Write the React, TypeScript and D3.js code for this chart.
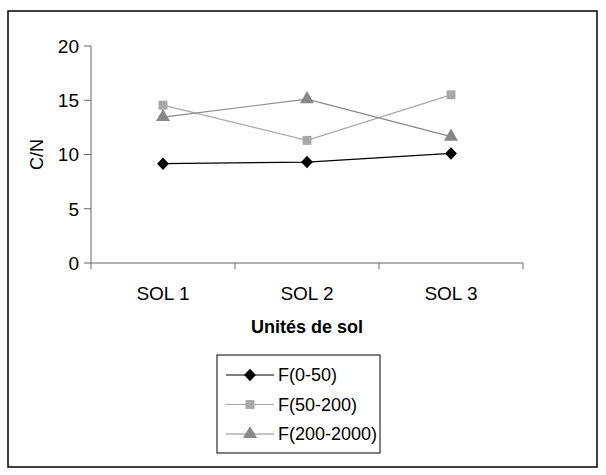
import React from 'react';
import * as d3 from 'd3';

const categories = ['SOL 1', 'SOL 2', 'SOL 3'];
const f0_50 = [9.15, 9.3, 10.1];
const f50_200 = [14.55, 11.3, 15.5];
const f200_2000 = [13.45, 15.1, 11.65];
const yTicks = [0, 5, 10, 15, 20];
const seriesNames = ['F(0-50)', 'F(50-200)', 'F(200-2000)'];

const W = 606;
const H = 475;
const margin = { top: 46, right: 83, bottom: 212, left: 91 };
const font = '"Liberation Sans", Arial, sans-serif';

// wider diamond than d3.symbolDiamond, closer to the original marker
const diamond = { draw(ctx: any, size: number) { const r = Math.sqrt(size) / 1.6; ctx.moveTo(0, -r * 1.05); ctx.lineTo(r, 0); ctx.lineTo(0, r * 1.05); ctx.lineTo(-r, 0); ctx.closePath(); } };

const series = [
  { name: seriesNames[0], values: f0_50, line: '#000000', fill: '#000000', shape: diamond, size: 90 },
  { name: seriesNames[1], values: f50_200, line: '#a8a8a8', fill: '#a8a8a8', shape: d3.symbolSquare, size: 80 },
  { name: seriesNames[2], values: f200_2000, line: '#888888', fill: '#888888', shape: d3.symbolTriangle, size: 85 },
];

export default function App() {
  const x = d3.scaleBand().domain(categories).range([margin.left, W - margin.right]).padding(0);
  const y = d3.scaleLinear().domain([0, 20]).range([H - margin.bottom, margin.top]);
  const cx = (c: string) => (x(c) as number) + x.bandwidth() / 2;

  const line = d3.line<number>()
    .x((_, i) => cx(categories[i]))
    .y(d => y(d));

  const edges = [...categories.map(c => x(c) as number), W - margin.right];

  const legendX = 217;
  const legendY = 355;
  const rowH = 29.5;

  return (
    <svg width={W} height={H} style={{ position: 'absolute', left: 0, top: 0 }}>
      <rect x={0} y={0} width={W} height={H} fill="#fff" />
      <rect x={8} y={11} width={589} height={456} fill="none" stroke="#000" strokeWidth={1.5} />

      {/* y axis */}
      <line x1={margin.left} x2={margin.left} y1={y(20)} y2={y(0)} stroke="#666" />
      {yTicks.map(t => (
        <g key={t}>
          <line x1={margin.left - 7} x2={margin.left} y1={y(t)} y2={y(t)} stroke="#666" />
          <text x={margin.left - 12} y={y(t)} dy="0.36em" textAnchor="end" fontFamily={font} fontSize={19}>{t}</text>
        </g>
      ))}
      <text transform={`translate(43,${(y(0) + y(20)) / 2}) rotate(-90)`} textAnchor="middle" fontFamily={font} fontSize={18}>C/N</text>

      {/* x axis */}
      <line x1={margin.left} x2={W - margin.right} y1={y(0)} y2={y(0)} stroke="#666" />
      {edges.map((e, i) => (
        <line key={i} x1={e} x2={e} y1={y(0)} y2={y(0) + 6} stroke="#666" />
      ))}
      {categories.map(c => (
        <text key={c} x={cx(c)} y={y(0) + 37} textAnchor="middle" fontFamily={font} fontSize={19}>{c}</text>
      ))}
      <text x={(margin.left + W - margin.right) / 2} y={333} textAnchor="middle" fontFamily={font} fontSize={18} fontWeight="bold">Unités de sol</text>

      {/* series */}
      {series.map(s => (
        <g key={s.name}>
          <path d={line(s.values) as string} fill="none" stroke={s.line} strokeWidth={1.2} />
          {s.values.map((v, i) => (
            <path key={i} transform={`translate(${cx(categories[i])},${y(v)})`} d={d3.symbol().type(s.shape).size(s.size)() as string} fill={s.fill} />
          ))}
        </g>
      ))}

      {/* legend */}
      <rect x={legendX} y={legendY} width={163} height={98} fill="#fff" stroke="#000" />
      {series.map((s, i) => {
        const ry = legendY + 20 + i * rowH;
        return (
          <g key={s.name}>
            <line x1={legendX + 9} x2={legendX + 57} y1={ry} y2={ry} stroke={s.line} strokeWidth={1.2} />
            <path transform={`translate(${legendX + 33},${ry})`} d={d3.symbol().type(s.shape).size(s.size)() as string} fill={s.fill} />
            <text x={legendX + 61} y={ry} dy="0.36em" fontFamily={font} fontSize={18}>{s.name}</text>
          </g>
        );
      })}
    </svg>
  );
}
